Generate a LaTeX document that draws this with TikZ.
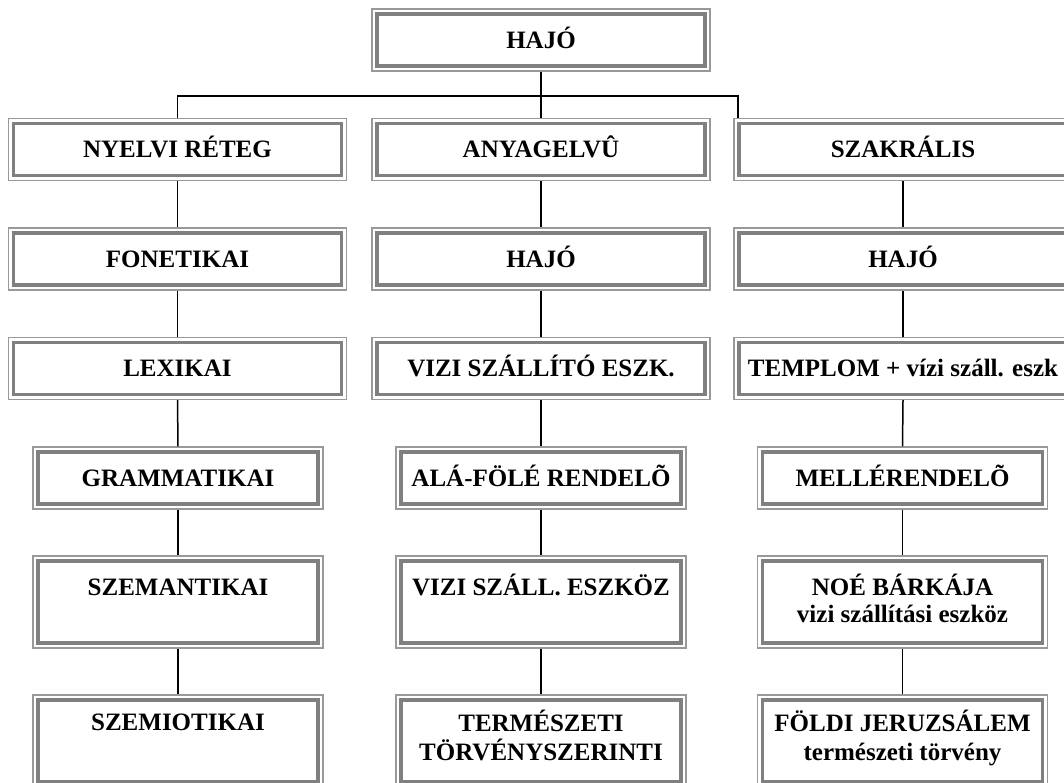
\documentclass[tikz,border=0pt]{standalone}
\usepackage{fontspec}
\setmainfont{Liberation Serif}

\tikzset{
    frame/.style={draw=gray!80, line width=1.1pt, align=center,
        font=\fontsize{25}{29.5}\selectfont\bfseries,
        inner sep=0pt, minimum height=62pt,
        text height=19pt, text depth=2.4pt,
        path picture={\draw[gray, line width=3.6pt]
            ([shift={(5pt,5pt)}]path picture bounding box.south west) rectangle
            ([shift={(-5pt,-5pt)}]path picture bounding box.north east);}},
    wide/.style={frame, minimum width=338pt},
    narrow/.style={frame, minimum width=290pt},
    tall/.style={minimum height=92pt},
    link/.style={draw=black, line width=1.5pt},
}

\begin{document}
\begin{tikzpicture}[x=1pt, y=-1pt]
    \useasboundingbox (0,0) rectangle (1064,783);
    \clip (0,0) rectangle (1064,783);

    % top
    \node [wide] (hajo) at (541,40) {HAJÓ};

    % row 1
    \node [wide] (nyelv) at (177.5,149.5) {NYELVI RÉTEG};
    \node [wide] (anyag) at (541,149.5) {ANYAGELVÛ};
    \node [wide] (szakr) at (903,149.5) {SZAKRÁLIS};

    % row 2
    \node [wide] (fonet) at (177.5,259) {FONETIKAI};
    \node [wide] (hajoB) at (541,259) {HAJÓ};
    \node [wide] (hajoC) at (903,259) {HAJÓ};

    % row 3
    \node [wide] (lexik) at (177.5,368.5) {LEXIKAI};
    \node [wide] (vizi) at (541,368.5) {VIZI SZÁLLÍTÓ ESZK.};
    \node [wide] (templ) at (903,368.5) {TEMPLOM + vízi száll. eszk};

    % row 4
    \node [narrow] (gramm) at (178,478) {GRAMMATIKAI};
    \node [narrow] (alafo) at (541,478) {ALÁ-FÖLÉ RENDELÕ};
    \node [narrow] (meller) at (902.5,478) {MELLÉRENDELÕ};

    % row 5
    \node [narrow, tall, text depth=32.4pt] (szem) at (178,602) {SZEMANTIKAI};
    \node [narrow, tall, text depth=32.4pt] (viszal) at (541,602) {VIZI SZÁLL. ESZKÖZ};
    \node [narrow, tall, text height=46.5pt, text depth=4.9pt] (noe) at (902.5,602)
        {NOÉ BÁRKÁJA\\[-2pt] vizi szállítási eszköz};

    % row 6
    \node [narrow, tall, text depth=40.4pt] (szemio) at (178,741) {SZEMIOTIKAI};
    \node [narrow, tall, text height=48.5pt, text depth=8.9pt] (termesz) at (541,741)
        {TERMÉSZETI\\TÖRVÉNYSZERINTI};
    \node [narrow, tall, text height=48.5pt, text depth=8.9pt] (foldi) at (902.5,741)
        {FÖLDI JERUZSÁLEM\\természeti törvény};

    % bus under the top box
    \coordinate (busR) at (738,96);
    \draw[link] (hajo.south) -- (anyag.north);
    \draw[link] (nyelv.north) |- (busR) -- (busR |- szakr.north);

    % column links
    \foreach \a/\b in {nyelv/fonet, fonet/lexik, lexik/gramm, gramm/szem, szem/szemio,
                       anyag/hajoB, hajoB/vizi, vizi/alafo, alafo/viszal, viszal/termesz,
                       szakr/hajoC, hajoC/templ, templ/meller, meller/noe, noe/foldi}
        \draw[link] (\a.south) -- (\b.north);
\end{tikzpicture}
\end{document}
